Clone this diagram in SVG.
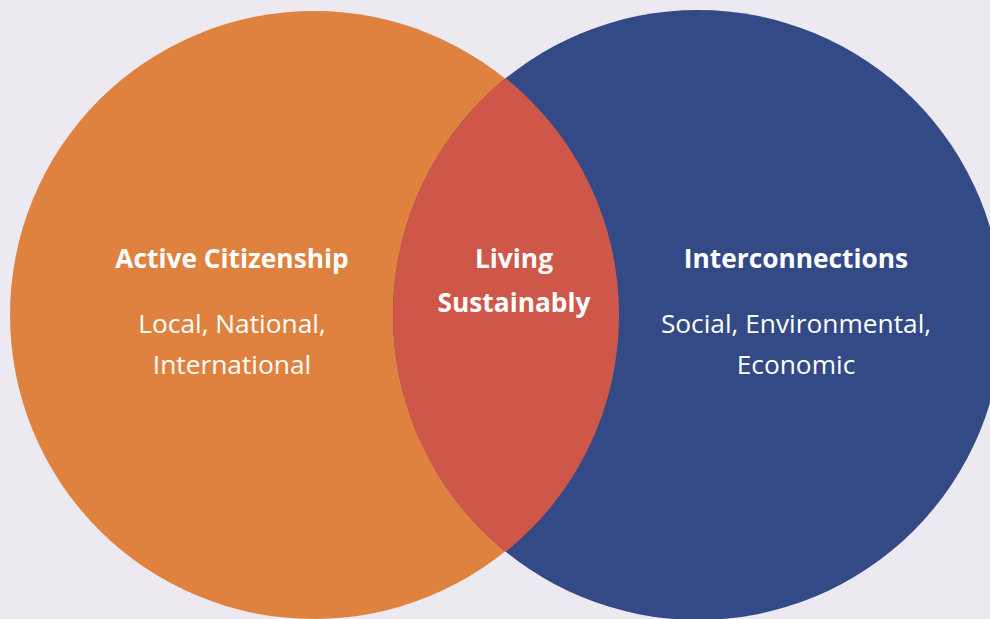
<svg xmlns="http://www.w3.org/2000/svg" width="990" height="619" viewBox="0 0 990 619">
<style>
.t{font-family:"Open Sans","Noto Sans",sans-serif;fill:#ffffff;text-anchor:middle;font-size:26.3px}
.b{font-weight:bold}
</style>
<rect width="990" height="619" fill="#ECE9F1"/>
<g id="active-citizenship">
<circle cx="314" cy="315" r="304" fill="#E0823F"/>
</g>
<g id="interconnections">
<circle cx="698" cy="315" r="305" fill="#344A87"/>
</g>
<g id="living-sustainably">
<path d="M505.7 78.2 A304 304 0 0 1 505.7 551.8 A305 305 0 0 1 505.7 78.2 Z" fill="#CF5749"/>
</g>
<g id="labels">
<text class="t b" x="232" y="268">Active Citizenship</text>
<text class="t" x="232" y="333">Local, National,</text>
<text class="t" x="232" y="374">International</text>
<text class="t b" x="514" y="268">Living</text>
<text class="t b" x="514" y="312">Sustainably</text>
<text class="t b" x="796" y="268">Interconnections</text>
<text class="t" x="796" y="333">Social, Environmental,</text>
<text class="t" x="796" y="374">Economic</text>
</g>
</svg>
